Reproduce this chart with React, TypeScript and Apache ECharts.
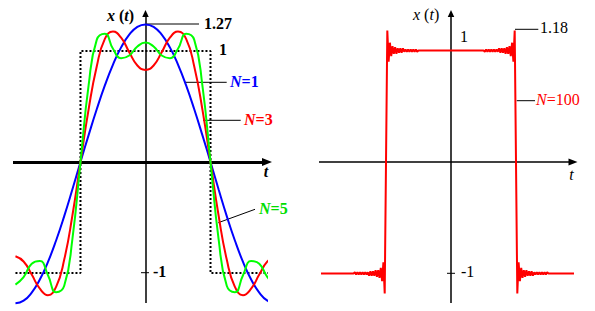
import React, { useEffect, useRef } from "react";
import * as echarts from "echarts";

// time samples (units: quarter periods, jumps at t = ±1)
const tSamples = [
  -2, -1.875, -1.75, -1.625, -1.5, -1.375, -1.25, -1.125, -1, -0.875, -0.75, -0.625, -0.5, -0.375, -0.25, -0.125,
  0, 0.125, 0.25, 0.375, 0.5, 0.625, 0.75, 0.875, 1, 1.125, 1.25, 1.375, 1.5, 1.625, 1.75, 1.875, 2,
];
// partial sums
const n1Values = [
  -1.273, -1.249, -1.176, -1.059, -0.9, -0.707, -0.487, -0.248, 0, 0.242, 0.475, 0.69, 0.878, 1.033, 1.147, 1.218,
  1.24, 1.218, 1.147, 1.033, 0.878, 0.69, 0.475, 0.242, 0, -0.248, -0.487, -0.707, -0.9, -1.059, -1.176, -1.249, -1.273,
];
const n3Values = [
  -0.849, -0.896, -1.014, -1.141, -1.2, -1.124, -0.879, -0.484, 0, 0.475, 0.86, 1.11, 1.175, 1.12, 0.99, 0.87,
  0.83, 0.87, 0.99, 1.12, 1.175, 1.11, 0.86, 0.475, 0, -0.484, -0.879, -1.124, -1.2, -1.141, -1.014, -0.896, -0.849,
];
const n5Values = [
  -1.104, -1.037, -0.916, -0.892, -1.02, -1.173, -1.115, -0.696, 0, 0.69, 1.1, 1.155, 1.02, 0.935, 0.96, 1.04,
  1.077, 1.04, 0.96, 0.935, 1.02, 1.155, 1.1, 0.69, 0, -0.696, -1.115, -1.173, -1.02, -0.892, -0.916, -1.037, -1.104,
];
// ideal square wave
const squareT = [-2, -1, -1, 1, 1, 2];
const squareX = [-1, -1, 1, 1, -1, -1];
// N = 100: ringing next to a jump (distance from the jump, value on the high side)
const n100Offsets = [
  0, 0.02, 0.04, 0.06, 0.08, 0.1, 0.12, 0.14, 0.16, 0.18, 0.2, 0.22, 0.24, 0.26, 0.28, 0.3, 0.32, 0.34, 0.36, 0.38,
  0.4, 0.42, 0.44, 0.46, 0.48, 0.5,
];
const n100Values = [
  0, 1.18, 0.9, 1.07, 0.95, 1.04, 0.97, 1.03, 0.97, 1.02, 0.98, 1.02, 0.98, 1.02, 0.99, 1.01, 0.99, 1.01, 0.99, 1.01,
  0.99, 1.01, 0.99, 1.01, 0.99, 1.0,
];
const jumpTimes = [-1, 1];
const periodEnds = [-2, 2];

const FONT = "Liberation Serif";

function zip(xs: number[], ys: number[]) {
  return xs.map((x, i) => [x, ys[i]]);
}

function buildN100() {
  const K = n100Offsets.length - 1;
  const pts: number[][] = [[periodEnds[0], -1]];
  const [a, b] = jumpTimes;
  for (let k = K; k >= 1; k--) pts.push([a - n100Offsets[k], -n100Values[k]]);
  pts.push([a, n100Values[0]]);
  for (let k = 1; k <= K; k++) pts.push([a + n100Offsets[k], n100Values[k]]);
  for (let k = K; k >= 1; k--) pts.push([b - n100Offsets[k], n100Values[k]]);
  pts.push([b, n100Values[0]]);
  for (let k = 1; k <= K; k++) pts.push([b + n100Offsets[k], -n100Values[k]]);
  pts.push([periodEnds[1], -1]);
  return pts;
}

function tok(weight: string, style: string, color: string, size = 16) {
  return { fontFamily: FONT, fontSize: size, fontWeight: weight, fontStyle: style, fill: color };
}

function label(x: number, y: number, text: string, color: string, bold: boolean, align = "left") {
  const w = bold ? "bold" : "normal";
  return {
    type: "text",
    x,
    y,
    silent: true,
    style: {
      text,
      align,
      verticalAlign: "middle",
      fontFamily: FONT,
      fontSize: 16,
      fontWeight: w,
      fill: color,
      rich: {
        i: tok(w, "italic", color),
        r: tok(w, "normal", color),
      },
    },
  };
}

function seg(x1: number, y1: number, x2: number, y2: number) {
  return { type: "line", silent: true, shape: { x1, y1, x2, y2 }, style: { stroke: "#000", lineWidth: 1 } };
}

function axisX(grid: number, min: number, max: number, width: number, arrow: number[]) {
  return {
    type: "value",
    gridIndex: grid,
    min,
    max,
    axisLine: {
      show: true,
      onZero: true,
      symbol: ["none", "triangle"],
      symbolSize: arrow,
      lineStyle: { color: "#000", width, cap: "butt" },
    },
    axisTick: { show: false },
    axisLabel: { show: false },
    splitLine: { show: false },
  };
}

export default function App() {
  const ref = useRef<HTMLDivElement>(null);
  useEffect(() => {
    if (!ref.current) return;
    const chart = echarts.init(ref.current, undefined, { renderer: "svg" });
    const curve = (name: string, data: number[], color: string) => ({
      name,
      type: "line",
      xAxisIndex: 0,
      yAxisIndex: 0,
      data: zip(tSamples, data),
      showSymbol: false,
      symbol: "none",
      smooth: true,
      clip: false,
      silent: true,
      lineStyle: { color, width: 2 },
    });
    chart.setOption({
      animation: false,
      backgroundColor: "#fff",
      grid: [
        { left: 13, top: 13.5, width: 254, height: 289.5 },
        { left: 319, top: 13.5, width: 254, height: 289.5 },
      ],
      xAxis: [axisX(0, -2.038, 1.869, 3, [8, 10]), axisX(1, -2.031, 1.877, 1.5, [7, 9])],
      yAxis: [axisX(0, -1.27, 1.338, 1.5, [6.5, 7]), axisX(1, -1.265, 1.332, 1.5, [6.5, 7])],
      series: [
        {
          name: "square",
          type: "line",
          xAxisIndex: 0,
          yAxisIndex: 0,
          data: zip(squareT, squareX),
          showSymbol: false,
          symbol: "none",
          clip: false,
          silent: true,
          lineStyle: { color: "#000", width: 2, type: [2, 2], cap: "butt" },
        },
        curve("N=1", n1Values, "#0000ff"),
        curve("N=3", n3Values, "#ff0000"),
        curve("N=5", n5Values, "#00ff00"),
        {
          name: "N=100",
          type: "line",
          xAxisIndex: 1,
          yAxisIndex: 1,
          data: buildN100(),
          showSymbol: false,
          symbol: "none",
          clip: false,
          silent: true,
          lineStyle: { color: "#ff0000", width: 2 },
        },
      ],
      graphic: [
        // left panel
        label(107, 15, "{i|x}{r| (}{i|t}{r|)}", "#000", true),
        seg(146.5, 24, 199, 24),
        label(204, 23.5, "1.27", "#000", true),
        label(219, 49.5, "1", "#000", true),
        seg(184, 82.3, 226.7, 82.3),
        label(230, 81, "{i|N}{r|=1}", "#0000ff", true),
        seg(203, 120.3, 240.7, 120.3),
        label(244, 119.5, "{i|N}{r|=3}", "#ff0000", true),
        seg(218.3, 222.7, 255, 209.3),
        label(259, 208.5, "{i|N}{r|=5}", "#00dd00", true),
        label(266, 171.5, "{i|t}", "#000", true, "center"),
        seg(141, 272.7, 149, 272.7),
        label(153, 271.8, "-1", "#000", true),
        // right panel
        label(413, 14.5, "{i|x}{r| (}{i|t}{r|)}", "#000", false),
        label(460, 36, "1", "#000", false),
        seg(515, 29.3, 538.3, 29.3),
        label(540, 27, "1.18", "#000", false),
        seg(516.7, 100.7, 535, 100.7),
        label(536, 99.5, "{i|N}{r|=100}", "#ff0000", false),
        label(571.5, 174.5, "{i|t}", "#000", false, "center"),
        seg(447, 273.3, 455, 273.3),
        label(461, 271.8, "-1", "#000", false),
      ],
    });
    return () => chart.dispose();
  }, []);
  return (
    <div
      ref={ref}
      style={{ position: "absolute", left: 0, top: 0, width: 595, height: 311, background: "#fff" }}
    />
  );
}
